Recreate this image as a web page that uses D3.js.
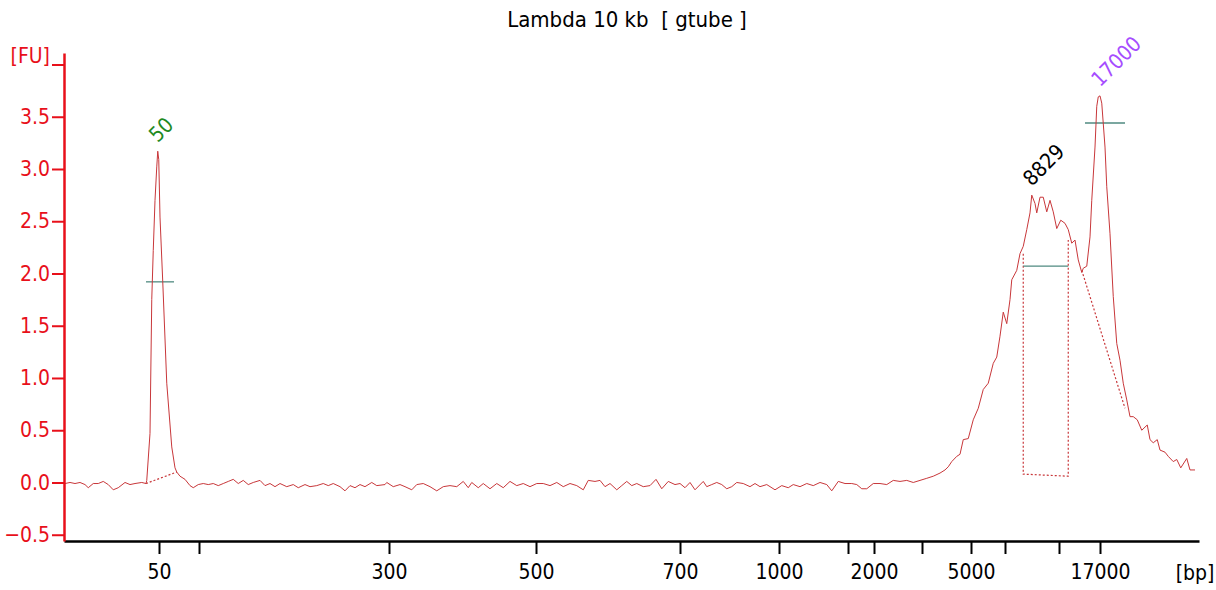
<!DOCTYPE html>
<html>
<head>
<meta charset="utf-8">
<script src="https://cdn.jsdelivr.net/npm/d3@7/dist/d3.min.js"></script>
<style>
  body { margin: 0; background: #fff; }
  svg text { font-family: "DejaVu Sans Condensed", "DejaVu Sans", sans-serif; font-stretch: condensed; white-space: pre; }
</style>
</head>
<body>
<div id="root"></div>
<script>
// ladder (migration time in s -> bp label)
var ladderBp = [50, 100, 300, 500, 700, 1000, 1500, 2000, 3000, 5000, 7000, 10380, 17000];
var ladderTime = [47.72, 50.92, 66.12, 77.88, 89.4, 97.32, 102.84, 104.92, 108.76, 112.68, 115.4, 119.72, 123.0];
var ladderLabels = ["50", "", "300", "500", "700", "1000", "", "2000", "", "5000", "", "", "17000"];

var fuTicks = [-0.5, 0, 0.5, 1.0, 1.5, 2.0, 2.5, 3.0, 3.5, 4.0];

// electropherogram trace: [time, FU]
var trace = [
  [40.2,-0.01],[40.6,0.00],[41.0,-0.01],[41.4,0.00],[41.8,-0.02],[42.06,-0.05],[42.46,-0.01],[42.86,-0.01],
  [43.26,0.01],[43.66,-0.02],[44.06,-0.07],[44.46,-0.05],[45.0,0.00],[45.4,-0.02],[45.8,-0.01],[46.34,0.00],
  [46.68,-0.01],[46.74,0.02],[47.0,0.47],[47.14,1.75],[47.26,2.22],[47.4,2.70],[47.54,3.02],[47.62,3.17],
  [47.70,3.09],[47.8,2.54],[48.02,1.92],[48.34,0.95],[48.74,0.34],[49.0,0.14],[49.14,0.10],[49.4,0.06],
  [49.8,0.03],[50.2,-0.03],[50.46,-0.05],[50.86,-0.02],[51.26,-0.01],[51.66,-0.02],[52.06,-0.01],[52.46,-0.03],
  [52.86,-0.01],[53.26,0.01],[53.66,0.03],[54.06,-0.01],[54.46,0.02],[54.86,-0.02],[55.26,0.00],[55.8,0.02],
  [56.2,-0.03],[56.6,-0.01],[57.0,-0.04],[57.4,-0.01],[57.94,-0.04],[58.46,-0.02],[58.86,-0.05],[59.4,-0.02],
  [59.8,-0.04],[60.34,-0.03],[60.86,-0.01],[61.26,-0.03],[61.66,-0.01],[62.2,-0.04],[62.6,-0.08],[63.0,-0.03],
  [63.4,-0.05],[63.8,-0.02],[64.2,-0.04],[64.74,0.00],[65.14,-0.03],[65.8,-0.02],[65.94,0.00],[66.46,-0.04],
  [67.0,-0.02],[67.4,-0.04],[67.94,-0.07],[68.34,-0.02],[68.86,-0.01],[69.4,-0.04],[69.94,-0.08],[70.46,-0.04],
  [71.0,-0.03],[71.54,-0.04],[72.06,0.01],[72.46,-0.05],[72.74,0.00],[73.26,-0.05],[73.66,-0.01],[74.2,-0.06],
  [74.74,-0.01],[75.26,-0.05],[75.8,0.01],[76.34,-0.03],[76.86,-0.01],[77.4,-0.04],[77.94,-0.01],[78.46,-0.01],
  [79.0,-0.03],[79.54,0.00],[80.06,-0.04],[80.6,-0.01],[81.14,-0.03],[81.66,-0.07],[82.06,0.02],[82.6,0.01],
  [83.0,0.02],[83.4,-0.04],[83.8,-0.01],[84.34,-0.07],[84.74,-0.03],[85.14,0.01],[85.54,-0.03],[85.94,-0.01],
  [86.46,-0.04],[87.0,-0.03],[87.48,0.03],[87.94,-0.06],[88.46,0.01],[89.0,-0.02],[89.4,-0.01],[89.8,-0.05],
  [90.2,0.00],[90.6,-0.07],[91.26,0.01],[91.54,-0.04],[91.94,-0.02],[92.34,0.00],[92.74,-0.02],[93.14,-0.06],
  [93.54,-0.04],[93.94,0.00],[94.46,-0.01],[95.0,-0.04],[95.4,-0.01],[95.8,-0.04],[96.34,-0.02],[97.0,-0.07],
  [97.54,-0.03],[98.06,-0.05],[98.46,-0.02],[99.0,-0.04],[99.54,-0.01],[100.06,-0.03],[100.6,0.00],[101.14,-0.02],
  [101.54,-0.08],[102.06,0.01],[102.6,-0.01],[103.14,-0.01],[103.54,-0.02],[103.94,-0.06],[104.34,-0.06],[104.86,-0.01],
  [105.4,-0.01],[105.94,-0.02],[106.46,0.02],[107.0,0.01],[107.54,0.02],[108.06,0.00],[108.6,0.02],[109.14,0.04],
  [109.66,0.06],[110.2,0.09],[110.6,0.12],[110.86,0.15],[111.14,0.20],[111.54,0.25],[111.8,0.27],[112.06,0.41],
  [112.46,0.42],[112.86,0.60],[113.26,0.71],[113.66,0.89],[114.06,0.95],[114.46,1.14],[114.74,1.20],[115.0,1.40],
  [115.26,1.63],[115.54,1.52],[115.8,1.75],[115.94,1.94],[116.34,2.03],[116.6,2.19],[116.86,2.26],[117.14,2.42],
  [117.4,2.58],[117.54,2.75],[117.8,2.67],[117.94,2.58],[118.2,2.73],[118.46,2.73],[118.74,2.59],[119.0,2.70],
  [119.26,2.59],[119.54,2.43],[119.86,2.51],[120.2,2.48],[120.46,2.42],[120.74,2.29],[121.0,2.32],[121.26,2.13],
  [121.54,2.01],[121.66,2.05],[121.94,2.07],[122.2,2.35],[122.34,2.70],[122.6,3.21],[122.74,3.60],[122.86,3.69],
  [123.0,3.70],[123.14,3.63],[123.4,3.21],[123.54,2.83],[123.8,2.38],[124.06,1.78],[124.34,1.33],[124.6,1.17],
  [124.86,0.95],[125.14,0.79],[125.4,0.63],[125.66,0.63],[125.98,0.60],[126.34,0.50],[126.6,0.53],[126.78,0.55],
  [127.0,0.41],[127.26,0.38],[127.58,0.41],[127.8,0.31],[128.2,0.29],[128.46,0.25],[128.86,0.20],[129.14,0.22],
  [129.46,0.14],[129.94,0.23],[130.2,0.12],[130.6,0.12]
];

// peaks
var peakLabels = ["50", "8829", "17000"];
var peakTime = [47.62, 117.54, 123.0];
var peakFu = [3.17, 2.75, 3.70];

// half height bars
var halfStart = [46.68, 116.86, 121.8];
var halfEnd = [48.92, 120.46, 125.0];
var halfFu = [1.92, 2.07, 3.44];

// dotted baselines / region
var baseline50 = [[46.68, -0.01], [49.14, 0.10]];
var region8829 = [[116.86, 2.19], [116.86, 0.08], [120.46, 0.06], [120.46, 2.32]];
var baseline17000 = [[121.54, 2.03], [125.0, 0.71]];

var config = {
  width: 1216, height: 590,
  left: 64, right: 1199, top: 53, bottom: 541,
  traceColor: "#c8373a",
  axisRed: "#e8101a",
  halfColor: "#4f8a80",
  fontSize: 21
};
var peakColors = ["#1f8a1f", "#000000", "#a64dff"];

var svg = d3.select("#root").append("svg")
  .attr("width", config.width)
  .attr("height", config.height);

var x = d3.scaleLinear().domain([40.12, 130.92]).range([config.left, config.right]);
var y = d3.scaleLinear().domain([-0.56, 4.11]).range([config.bottom, config.top]);

// title
svg.append("text")
  .attr("x", 627).attr("y", 27)
  .attr("text-anchor", "middle")
  .style("font-size", "22px")
  .style("fill", "#000")
  .text("Lambda 10 kb  [ gtube ]");

var line = d3.line()
  .x(function(d) { return x(d[0]); })
  .y(function(d) { return y(d[1]); });

// dotted baselines
[baseline50, region8829, baseline17000].forEach(function(b) {
  svg.append("path")
    .attr("d", line(b))
    .style("fill", "none")
    .style("stroke", config.traceColor)
    .style("stroke-width", 1.2)
    .style("stroke-dasharray", "2,2");
});

// half height bars
halfFu.forEach(function(v, i) {
  svg.append("line")
    .attr("x1", x(halfStart[i])).attr("x2", x(halfEnd[i]))
    .attr("y1", y(v)).attr("y2", y(v))
    .style("stroke", config.halfColor)
    .style("stroke-width", 1.3);
});

// trace
svg.append("path")
  .attr("d", line(trace))
  .style("fill", "none")
  .style("stroke", config.traceColor)
  .style("stroke-width", 1);

// peak labels
peakLabels.forEach(function(lab, i) {
  var px = x(peakTime[i]), py = y(peakFu[i]) - 8;
  svg.append("text")
    .attr("transform", "translate(" + px + "," + py + ") rotate(-45)")
    .style("font-size", config.fontSize + "px")
    .style("fill", peakColors[i])
    .text(lab);
});

// x axis
var xAxis = d3.axisBottom(x)
  .tickValues(ladderTime)
  .tickFormat(function(d, i) { return ladderLabels[i]; })
  .tickSizeInner(13)
  .tickSizeOuter(0)
  .tickPadding(10);
var gx = svg.append("g")
  .attr("transform", "translate(0," + config.bottom + ")")
  .call(xAxis);
gx.attr("font-family", null).attr("font-size", null);
gx.select(".domain").style("stroke", "#000").style("stroke-width", 2.5);
gx.selectAll(".tick line").style("stroke", "#000").style("stroke-width", 2);
gx.selectAll(".tick text")
  .style("font-size", config.fontSize + "px")
  .style("fill", "#000");
svg.append("text")
  .attr("x", 1195).attr("y", 580)
  .attr("text-anchor", "middle")
  .style("font-size", config.fontSize + "px")
  .text("[bp]");

// y axis
var yAxis = d3.axisLeft(y)
  .tickValues(fuTicks)
  .tickFormat(function(d) { return d === 4 ? "[FU]" : d3.format(".1f")(d); })
  .tickSizeInner(12)
  .tickSizeOuter(0)
  .tickPadding(2);
var gy = svg.append("g")
  .attr("transform", "translate(" + config.left + ",0)")
  .call(yAxis);
gy.attr("font-family", null).attr("font-size", null);
gy.select(".domain").style("stroke", config.axisRed).style("stroke-width", 2.5);
gy.selectAll(".tick line").style("stroke", config.axisRed).style("stroke-width", 2);
gy.selectAll(".tick text")
  .style("font-size", config.fontSize + "px")
  .style("fill", config.axisRed);
gy.selectAll(".tick").filter(function(d) { return d === 4; }).select("text")
  .attr("dy", "-0.1em");
</script>
</body>
</html>
